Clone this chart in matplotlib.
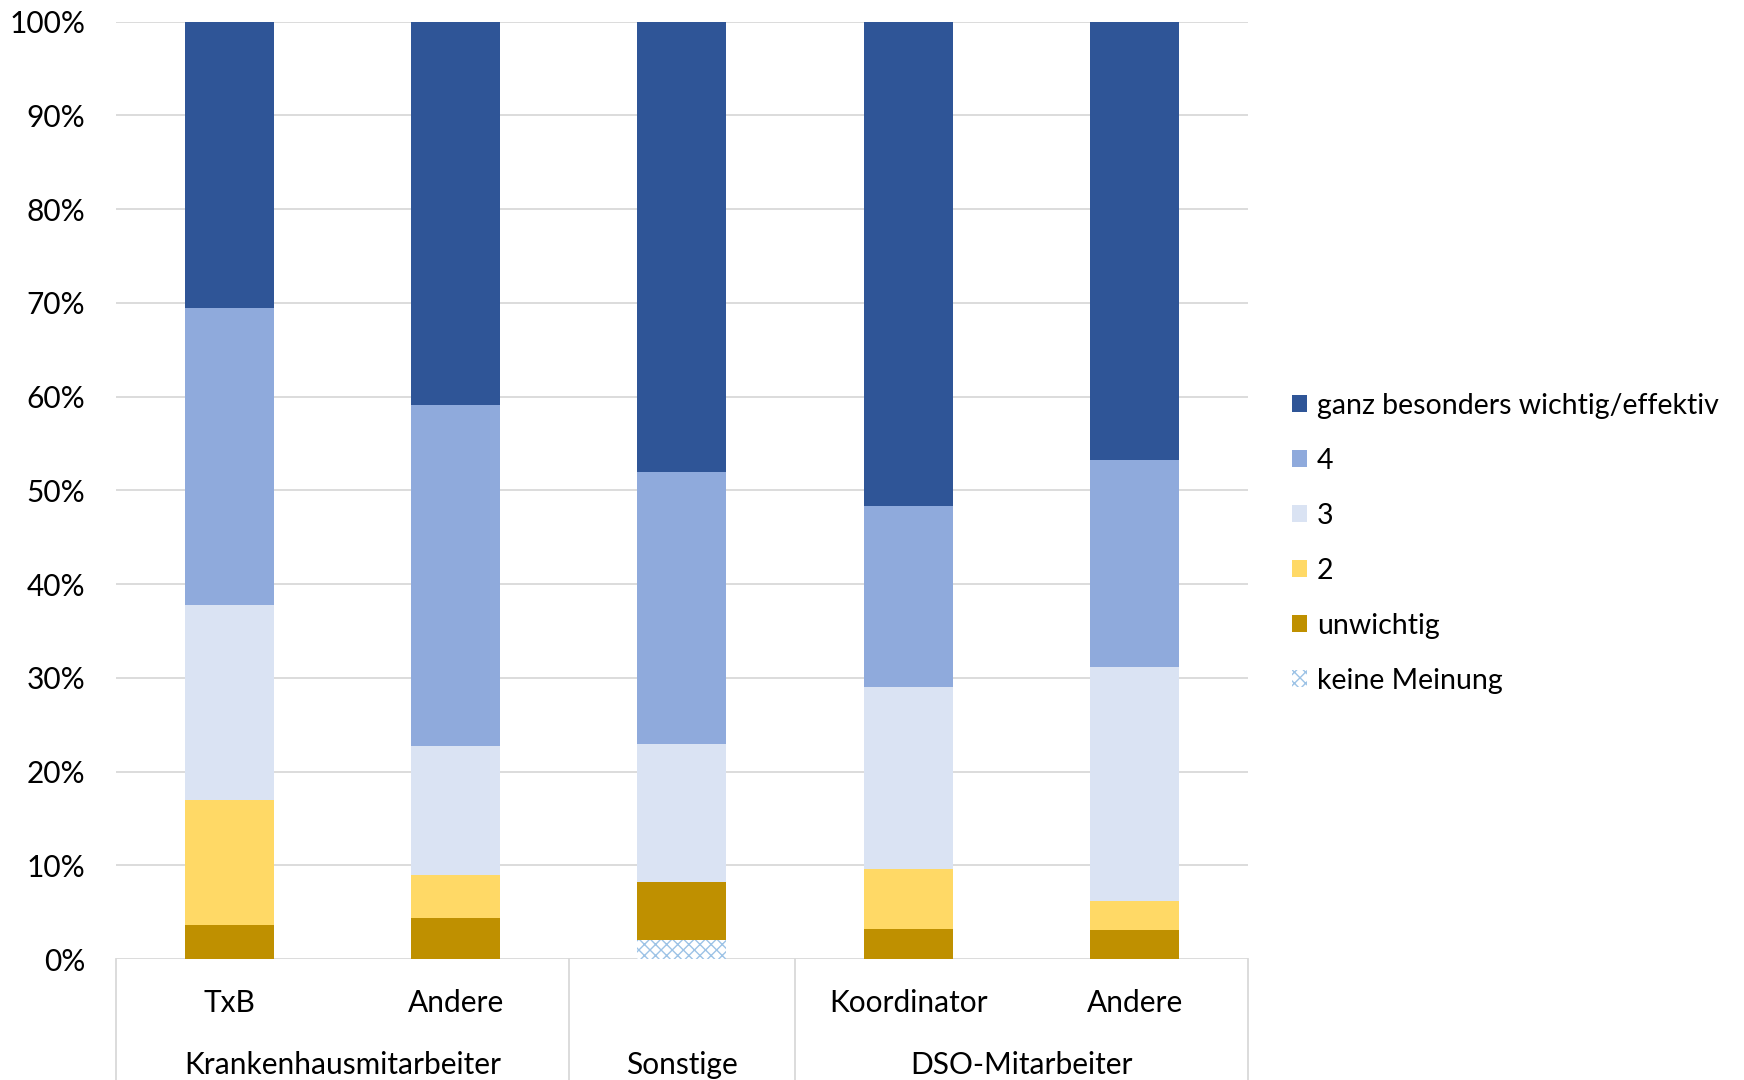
import numpy as np
import matplotlib
matplotlib.use("Agg")
import matplotlib.pyplot as plt
from matplotlib.ticker import PercentFormatter
from matplotlib.patches import Patch

plt.rcParams['font.family'] = ['Lato', 'DejaVu Sans']
plt.rcParams['hatch.linewidth'] = 1.0

# categories
sub_labels = ["TxB", "Andere", "", "Koordinator", "Andere"]
groups = ["Krankenhausmitarbeiter", "Sonstige", "DSO-Mitarbeiter"]
group_spans = [(0, 1), (2, 2), (3, 4)]

# shares in percent, bottom to top
keine_meinung = [0.0, 0.0, 2.0, 0.0, 0.0]
unwichtig = [3.6, 4.4, 6.2, 3.2, 3.1]
stufe2 = [13.4, 4.6, 0.0, 6.4, 3.1]
stufe3 = [20.8, 13.7, 14.7, 19.4, 25.0]
stufe4 = [31.7, 36.4, 29.1, 19.3, 22.0]
ganz = [30.5, 40.9, 48.0, 51.7, 46.8]

series = [
    ("keine Meinung", keine_meinung, "white"),
    ("unwichtig", unwichtig, "#BF9000"),
    ("2", stufe2, "#FFD966"),
    ("3", stufe3, "#DAE3F3"),
    ("4", stufe4, "#8FAADC"),
    ("ganz besonders wichtig/effektiv", ganz, "#2F5597"),
]

fs = 21.5

fig = plt.figure(figsize=(17.44, 10.80), dpi=100)
ax = fig.add_axes([0.0665, 0.112, 0.649, 0.868])

x = np.arange(len(sub_labels))
bottom = np.zeros(len(x))
handles = []
for name, vals, col in series:
    vals = np.array(vals)
    if name == "keine Meinung":
        ax.bar(x, vals, 0.393, bottom=bottom, color="white", edgecolor="#9DC3E6",
               hatch="xxx", linewidth=0, zorder=3)
        handles.append(Patch(facecolor="white", edgecolor="#9DC3E6", hatch="xxx", linewidth=0, label=name))
    else:
        ax.bar(x, vals, 0.393, bottom=bottom, color=col, linewidth=0, zorder=3)
        handles.append(Patch(facecolor=col, label=name))
    bottom += vals

ax.set_xlim(-0.5, 4.5)
ax.set_ylim(0, 100)
ax.set_yticks(np.arange(0, 101, 10))
ax.yaxis.set_major_formatter(PercentFormatter(decimals=0))
ax.tick_params(axis="y", length=0, pad=22, labelsize=fs)
ax.set_xticks([])
ax.grid(axis="y", color="#D9D9D9", linewidth=1.3, zorder=0)
for s in ax.spines.values():
    s.set_visible(False)

# category axis like a table below the plot
xt = ax.get_xaxis_transform()
for xv in [-0.5, 1.5, 2.5, 4.5]:
    ax.plot([xv, xv], [0, -0.14], transform=xt, color="#D9D9D9", lw=1.3, clip_on=False)
for i, lab in enumerate(sub_labels):
    ax.text(i, -0.047, lab, transform=xt, ha="center", va="center", fontsize=fs)
for g, (a, b) in zip(groups, group_spans):
    ax.text((a + b) / 2, -0.113, g, transform=xt, ha="center", va="center", fontsize=fs)

leg = fig.legend(handles=handles[::-1], loc="center left", bbox_to_anchor=(0.726, 0.497),
                 frameon=False, fontsize=20.5, handlelength=0.55, handleheight=0.55,
                 handletextpad=0.33, labelspacing=1.02)

fig.savefig("out.png", dpi=100)
